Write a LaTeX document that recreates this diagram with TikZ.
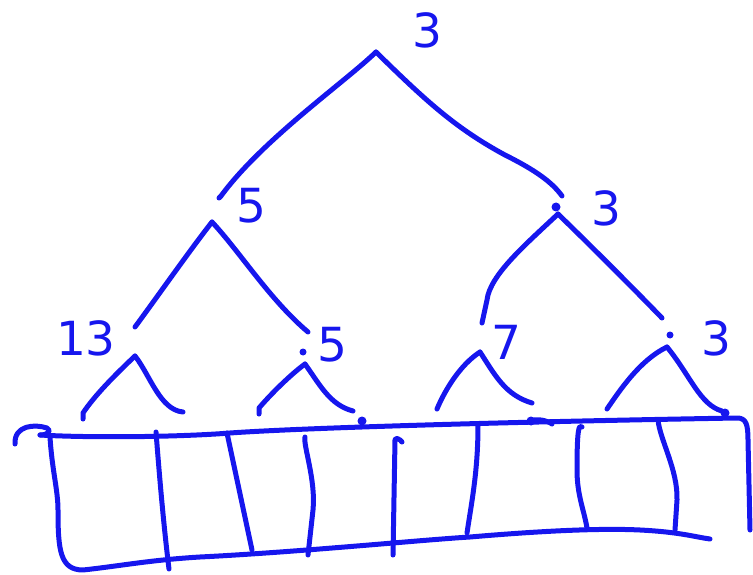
\documentclass[tikz,border=0pt]{standalone}
\usepackage{fontspec}
\setmainfont{DejaVu Sans}
\definecolor{ink}{RGB}{22,22,238}
\begin{document}
\begin{tikzpicture}[x=1pt,y=-1pt,
  pen/.style={draw=ink,line width=5pt,line cap=round,line join=round},
  lbl/.style={text=ink,font=\fontsize{47}{47}\selectfont,inner sep=0pt},
  dotmark/.style={fill=ink}]
\useasboundingbox (0,0) rectangle (753,575);
% ---------- coordinates ----------
\coordinate (root) at (376,52);
\coordinate (rl) at (221,196);
\coordinate (rr) at (562,196);
\coordinate (a) at (212,222);
\coordinate (al) at (135,327);
\coordinate (ar) at (308,332);
\coordinate (b) at (558,214);
\coordinate (bl) at (482,323);
\coordinate (br) at (662,318);
\coordinate (c1) at (135,356);
\coordinate (c1l) at (83,419);
\coordinate (c1r) at (183,412);
\coordinate (c2) at (305,364);
\coordinate (c2l) at (259,414);
\coordinate (c2r) at (353,411);
\coordinate (c3) at (480,352);
\coordinate (c3l) at (437,409);
\coordinate (c3r) at (532,403);
\coordinate (c4) at (667,347);
\coordinate (c4l) at (607,409);
\coordinate (c4r) at (722,411);
% ---------- labels ----------
\node[lbl] (L0) at (427,30) {3};
\node[lbl] (L1a) at (251,206) {5};
\node[lbl] (L1b) at (606,208) {3};
\node[lbl] (L2a) at (86,338) {13};
\node[lbl] (L2b) at (332,345) {5};
\node[lbl] (L2c) at (506,342) {7};
\node[lbl] (L2d) at (716,338) {3};
% ---------- tree ----------
\draw[pen] (root) .. controls (345,82) and (262,140) .. (rl) -- ++(-2,2);
\draw[pen] (root) .. controls (425,100) and (455,128) .. (505,155) .. controls (535,170) and (552,182) .. (rr);
\draw[pen] (a) .. controls (190,250) and (155,300) .. (al);
\draw[pen] (a) .. controls (240,252) and (270,300) .. (ar);
\draw[pen] (b) .. controls (525,245) and (490,275) .. (487,300) -- (bl);
\draw[pen] (b) .. controls (590,245) and (630,285) .. (br);
\draw[pen] (c1) .. controls (115,375) and (95,395) .. (83,413) -- (c1l);
\draw[pen] (c1) .. controls (150,375) and (160,410) .. (c1r);
\draw[pen] (c2) .. controls (290,375) and (270,395) .. (259,408) -- (c2l);
\draw[pen] (c2) .. controls (320,385) and (330,405) .. (c2r);
\draw[pen] (c3) .. controls (460,365) and (445,390) .. (c3l);
\draw[pen] (c3) .. controls (495,375) and (505,395) .. (c3r);
\draw[pen] (c4) .. controls (640,360) and (620,390) .. (c4l);
\draw[pen] (c4) .. controls (690,375) and (700,405) .. (c4r);
% dots
\fill[dotmark] (556,207) circle (4.5pt);
\fill[dotmark] (303,352) circle (3.5pt);
\fill[dotmark] (670,335) circle (3.5pt);
\fill[dotmark] (362,421) circle (4.5pt);
\fill[dotmark] (531,421) circle (4.5pt);
\fill[dotmark] (725,413) circle (4.5pt);
% ---------- array ----------
\coordinate (hk) at (15,444);
\coordinate (tl) at (40,435);
\coordinate (tr) at (737,418);
\coordinate (br2) at (750,530);
\coordinate (bl2) at (67,567);
\coordinate (bend) at (710,539);
\draw[pen] (hk) .. controls (14,425) and (35,424) .. (47,428) .. controls (52,431) and (48,435) .. (tl);
\draw[pen] (tl) .. controls (90,438) and (180,437) .. (230,433) .. controls (300,428) and (500,422) .. (tr) .. controls (746,418) and (748,424) .. (748,440) -- (br2);
\draw[pen] (50,437) .. controls (52,470) and (58,490) .. (58,510) .. controls (58,550) and (60,570) .. (83,570) .. controls (120,566) and (150,560) .. (200,557) .. controls (300,552) and (420,540) .. (470,537) .. controls (540,531) and (600,528) .. (640,530) .. controls (680,532) and (695,537) .. (bend);
\draw[pen] (530,421) .. controls (538,418) and (548,421) .. (552,424);
% dividers
\draw[pen] (156,432) .. controls (159,470) and (163,520) .. (169,569);
\draw[pen] (227,433) -- (252,550);
\draw[pen] (305,437) .. controls (303,445) and (316,480) .. (313,510) -- (308,555);
\draw[pen] (402,442) .. controls (400,439) and (395,437) .. (395,440) -- (393,555);
\draw[pen] (478,425) .. controls (478,470) and (472,500) .. (467,533);
\draw[pen] (582,427) .. controls (579,424) and (577,428) .. (577,470) .. controls (577,495) and (584,510) .. (587,528);
\draw[pen] (658,420) .. controls (660,440) and (678,470) .. (677,500) -- (675,530);
\end{tikzpicture}
\end{document}
